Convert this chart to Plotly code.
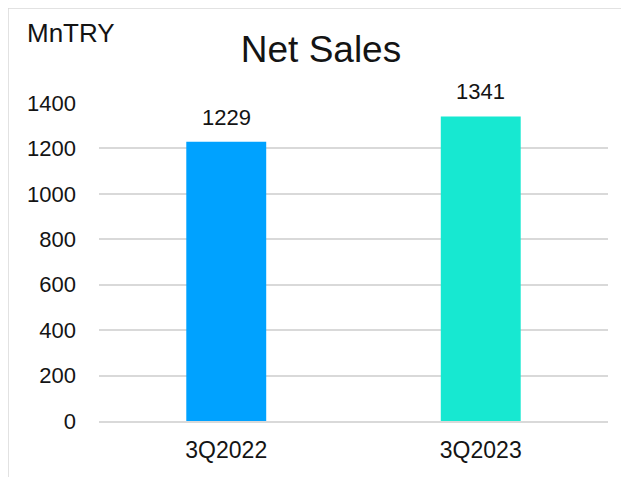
import plotly.graph_objects as go

categories = ["3Q2022", "3Q2023"]
values = [1229, 1341]
bar_colors = ["#00A2FF", "#17E8D1"]
y_ticks = [0, 200, 400, 600, 800, 1000, 1200, 1400]

# figure size (page body margin of 8px puts the figure at (8,8) in the window)
W, H = 629, 477
L, R, T, B = 91, 29, 95, 64
PW, PH = W - L - R, H - T - B
FONT = "Liberation Sans, Arial, sans-serif"
TXT = "#141414"


def px_x(fx):
    return (fx - L) / PW


def px_y(fy):
    return (H - B - fy) / PH


fig = go.Figure()
fig.add_trace(go.Bar(
    x=categories, y=values, marker=dict(color=bar_colors, line=dict(width=0)),
    width=0.314, showlegend=False, hoverinfo="skip",
))

for c, v in zip(categories, values):
    fig.add_annotation(x=c, y=v, xref="x", yref="y", text=str(v), showarrow=False,
                       yanchor="bottom", yshift=10,
                       font=dict(family=FONT, size=22, color=TXT))

fig.update_layout(
    width=W, height=H,
    margin=dict(l=L, r=R, t=T, b=B, pad=0),
    paper_bgcolor="white", plot_bgcolor="white",
    title=dict(text="Net Sales", x=313 / W, xanchor="center", xref="container",
               y=1 - 28 / H, yanchor="top", yref="container",
               font=dict(family=FONT, size=37, color=TXT)),
    xaxis=dict(showgrid=False, showline=True, linecolor="#d9d9d9", linewidth=2,
               ticks="", tickfont=dict(family=FONT, size=23, color=TXT),
               ticklabelstandoff=7, range=[-0.5, 1.5]),
    yaxis=dict(range=[0, 1400], tickvals=y_ticks, showgrid=True, gridcolor="#d9d9d9",
               gridwidth=1.5, zeroline=False, showline=False, ticks="",
               ticklabelstandoff=22,
               tickfont=dict(family=FONT, size=22, color=TXT)),
)

fig.add_annotation(text="MnTRY", xref="paper", yref="paper",
                   x=px_x(17), y=px_y(8),
                   xanchor="left", yanchor="top", showarrow=False,
                   font=dict(family=FONT, size=26, color=TXT))

# outer border (top and left edges visible in the window)
fig.add_shape(type="line", xref="paper", yref="paper",
              x0=px_x(0), x1=px_x(W), y0=px_y(0), y1=px_y(0),
              line=dict(color="#d9d9d9", width=1.5), layer="below")
fig.add_shape(type="line", xref="paper", yref="paper",
              x0=px_x(0), x1=px_x(0), y0=px_y(0), y1=px_y(H),
              line=dict(color="#d9d9d9", width=1.5), layer="below")

fig.write_html("out.html")
